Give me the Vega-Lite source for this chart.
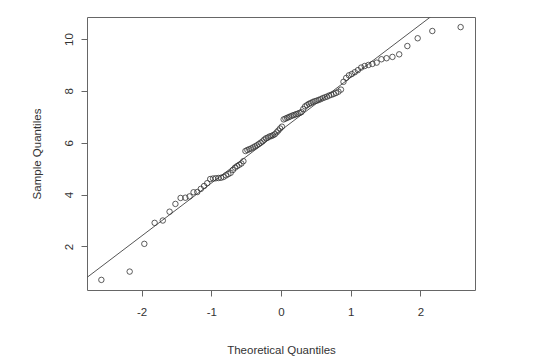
{
  "$schema": "https://vega.github.io/schema/vega-lite/v6.json",
  "autosize": {"type": "none"},
  "padding": {"left": 87, "top": 17, "right": 80, "bottom": 69},
  "width": 388,
  "height": 273,
  "background": "white",
  "config": {
    "view": {"stroke": "#666666", "strokeWidth": 1},
    "font": "Liberation Sans",
    "axis": {
      "grid": false,
      "domain": false,
      "tickColor": "#666666",
      "tickSize": 6,
      "labelFont": "Liberation Sans",
      "titleFont": "Liberation Sans",
      "labelFontSize": 11.5,
      "titleFontSize": 11.5,
      "labelColor": "#333333",
      "titleColor": "#333333",
      "titleFontWeight": "normal"
    }
  },
  "datasets": {
    "pts": [
      {"q": -2.576, "s": 0.71}, {"q": -2.170, "s": 1.03}, {"q": -1.960, "s": 2.10}, {"q": -1.812, "s": 2.91},
      {"q": -1.695, "s": 3.00}, {"q": -1.598, "s": 3.34}, {"q": -1.514, "s": 3.64}, {"q": -1.440, "s": 3.87},
      {"q": -1.372, "s": 3.88}, {"q": -1.311, "s": 3.93}, {"q": -1.254, "s": 4.09}, {"q": -1.200, "s": 4.10},
      {"q": -1.150, "s": 4.22}, {"q": -1.103, "s": 4.33}, {"q": -1.058, "s": 4.44}, {"q": -1.015, "s": 4.60},
      {"q": -0.974, "s": 4.62}, {"q": -0.935, "s": 4.63}, {"q": -0.896, "s": 4.64}, {"q": -0.860, "s": 4.65},
      {"q": -0.824, "s": 4.68}, {"q": -0.789, "s": 4.74}, {"q": -0.755, "s": 4.79}, {"q": -0.722, "s": 4.84},
      {"q": -0.690, "s": 4.95}, {"q": -0.659, "s": 5.04}, {"q": -0.628, "s": 5.10}, {"q": -0.598, "s": 5.15},
      {"q": -0.568, "s": 5.20}, {"q": -0.539, "s": 5.29}, {"q": -0.510, "s": 5.68}, {"q": -0.482, "s": 5.72},
      {"q": -0.454, "s": 5.75}, {"q": -0.426, "s": 5.78}, {"q": -0.399, "s": 5.82}, {"q": -0.372, "s": 5.86},
      {"q": -0.345, "s": 5.90}, {"q": -0.319, "s": 5.95}, {"q": -0.292, "s": 6.00}, {"q": -0.266, "s": 6.05},
      {"q": -0.240, "s": 6.12}, {"q": -0.215, "s": 6.17}, {"q": -0.189, "s": 6.20}, {"q": -0.164, "s": 6.24},
      {"q": -0.138, "s": 6.26}, {"q": -0.113, "s": 6.29}, {"q": -0.088, "s": 6.33}, {"q": -0.063, "s": 6.40},
      {"q": -0.038, "s": 6.47}, {"q": -0.013, "s": 6.55}, {"q": 0.013, "s": 6.62}, {"q": 0.038, "s": 6.90},
      {"q": 0.063, "s": 6.93}, {"q": 0.088, "s": 6.96}, {"q": 0.113, "s": 6.99}, {"q": 0.138, "s": 7.02},
      {"q": 0.164, "s": 7.05}, {"q": 0.189, "s": 7.07}, {"q": 0.215, "s": 7.10}, {"q": 0.240, "s": 7.12},
      {"q": 0.266, "s": 7.15}, {"q": 0.292, "s": 7.18}, {"q": 0.319, "s": 7.30}, {"q": 0.345, "s": 7.40},
      {"q": 0.372, "s": 7.45}, {"q": 0.399, "s": 7.50}, {"q": 0.426, "s": 7.53}, {"q": 0.454, "s": 7.57},
      {"q": 0.482, "s": 7.60}, {"q": 0.510, "s": 7.62}, {"q": 0.539, "s": 7.65}, {"q": 0.568, "s": 7.68},
      {"q": 0.598, "s": 7.72}, {"q": 0.628, "s": 7.75}, {"q": 0.659, "s": 7.78}, {"q": 0.690, "s": 7.82},
      {"q": 0.722, "s": 7.85}, {"q": 0.755, "s": 7.88}, {"q": 0.789, "s": 7.92}, {"q": 0.824, "s": 7.97},
      {"q": 0.860, "s": 8.05}, {"q": 0.896, "s": 8.35}, {"q": 0.935, "s": 8.50}, {"q": 0.974, "s": 8.60},
      {"q": 1.015, "s": 8.65}, {"q": 1.058, "s": 8.72}, {"q": 1.103, "s": 8.80}, {"q": 1.150, "s": 8.90},
      {"q": 1.200, "s": 8.96}, {"q": 1.254, "s": 9.00}, {"q": 1.311, "s": 9.04}, {"q": 1.372, "s": 9.09},
      {"q": 1.440, "s": 9.22}, {"q": 1.514, "s": 9.26}, {"q": 1.598, "s": 9.31}, {"q": 1.695, "s": 9.41},
      {"q": 1.812, "s": 9.73}, {"q": 1.960, "s": 10.03}, {"q": 2.170, "s": 10.31}, {"q": 2.576, "s": 10.46}
    ],
    "ref": [
      {"q": -2.782, "s": 0.805},
      {"q": 2.782, "s": 12.155}
    ]
  },
  "layer": [
    {
      "data": {"name": "ref"},
      "mark": {"type": "line", "clip": true, "color": "#555555", "strokeWidth": 1},
      "encoding": {
        "x": {"field": "q", "type": "quantitative"},
        "y": {"field": "s", "type": "quantitative"}
      }
    },
    {
      "data": {"name": "pts"},
      "mark": {"type": "point", "shape": "circle", "filled": false, "size": 30, "stroke": "#333333", "strokeWidth": 0.8, "opacity": 1},
      "encoding": {
        "x": {
          "field": "q", "type": "quantitative",
          "scale": {"domain": [-2.782, 2.782], "nice": false, "zero": false},
          "axis": {"title": "Theoretical Quantiles", "values": [-2, -1, 0, 1, 2], "labelExpr": "datum.value + ''", "labelPadding": 10, "titlePadding": 27}
        },
        "y": {
          "field": "s", "type": "quantitative",
          "scale": {"domain": [0.32, 10.85], "nice": false, "zero": false},
          "axis": {"title": "Sample Quantiles", "values": [2, 4, 6, 8, 10], "labelExpr": "datum.value + ''", "labelAngle": -90, "labelPadding": 7, "titlePadding": 21}
        }
      }
    }
  ]
}
